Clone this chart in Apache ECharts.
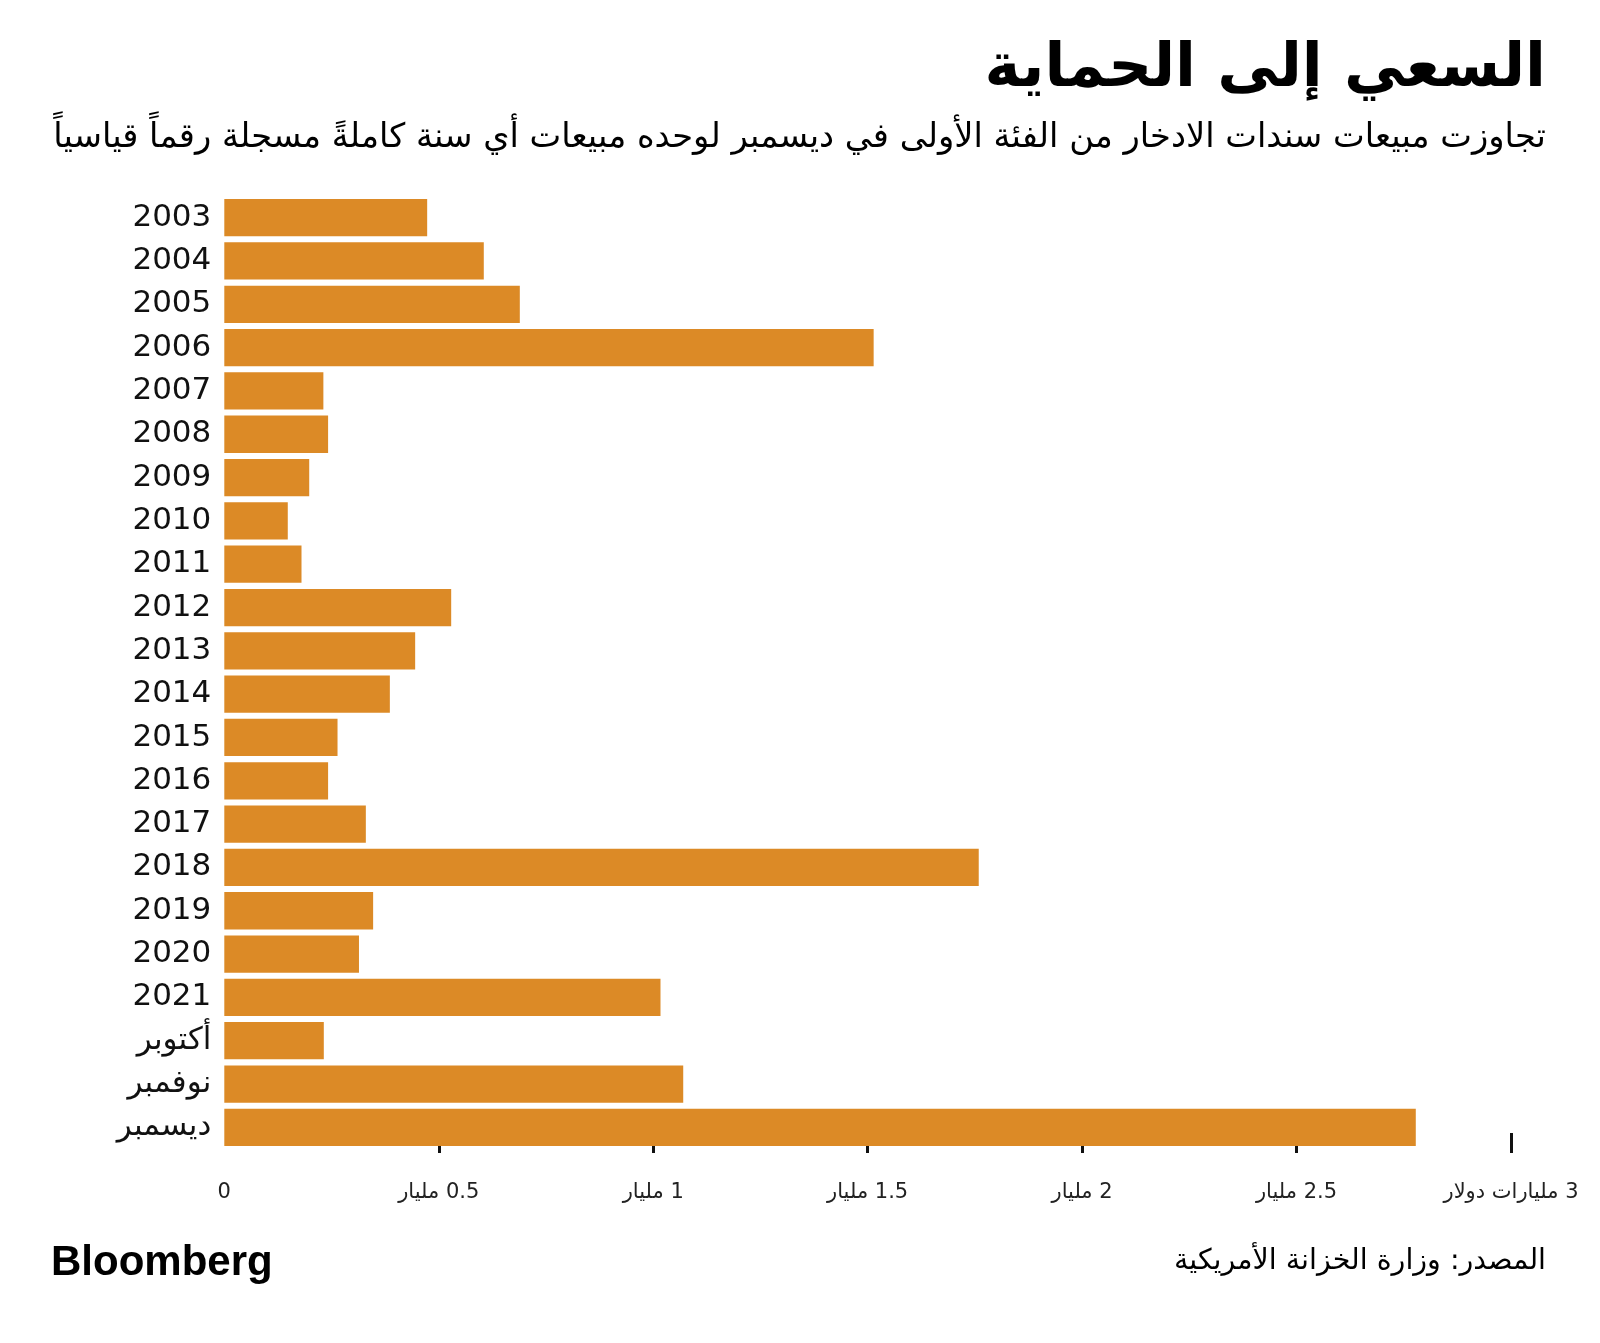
<!DOCTYPE html>
<html>
<head>
<meta charset="utf-8">
<script src="https://cdn.jsdelivr.net/npm/echarts@6/dist/echarts.min.js"></script>
<style>
html,body{margin:0;padding:0;background:#fff;}
#chart{width:1600px;height:1343px;}
</style>
</head>
<body>
<div id="chart" dir="rtl"></div>
<script>
const categories = ['2003','2004','2005','2006','2007','2008','2009','2010','2011','2012','2013','2014','2015','2016','2017','2018','2019','2020','2021','أكتوبر','نوفمبر','ديسمبر'];
const sales = [0.473,0.605,0.689,1.514,0.231,0.242,0.198,0.148,0.180,0.529,0.445,0.386,0.264,0.242,0.330,1.759,0.347,0.314,1.017,0.232,1.070,2.778];
const tickValues = [0,0.5,1,1.5,2,2.5,3];
const tickLabels = ['0','0.5 مليار','1 مليار','1.5 مليار','2 مليار','2.5 مليار','3 مليارات دولار'];
const titleText = 'السعي إلى الحماية';
const subtitleText = 'تجاوزت مبيعات سندات الادخار من الفئة الأولى في ديسمبر لوحده مبيعات أي سنة كاملةً مسجلة رقماً قياسياً';
const sourceText = 'المصدر: وزارة الخزانة الأمريكية';
const logoText = 'Bloomberg';

const chart = echarts.init(document.getElementById('chart'), null, {renderer:'canvas'});
const arabicFont = '"DejaVu Sans", sans-serif';
chart.setOption({
  backgroundColor:'#ffffff',
  animation:false,
  grid:{left:224.3, right:89, top:196, bottom:194, containLabel:false},
  xAxis:{
    type:'value', min:0, max:3, interval:0.5, offset:4,
    axisLine:{show:false},
    splitLine:{show:false},
    axisTick:{show:true, inside:true, length:20, customValues:tickValues.slice(1), lineStyle:{color:'#111', width:3}},
    axisLabel:{
      customValues:tickValues, margin:29,
      fontFamily:arabicFont, fontSize:21, color:'#222',
      formatter:(v)=>{ const i = tickValues.indexOf(v); return i>=0 ? tickLabels[i] : ''; }
    }
  },
  yAxis:{
    type:'category', data:categories, inverse:true,
    axisLine:{show:false}, axisTick:{show:false},
    axisLabel:{fontFamily:arabicFont, fontSize:31, color:'#111', margin:13}
  },
  series:[{
    type:'bar', data:sales, barCategoryGap:'14%',
    itemStyle:{color:'#DC8A26'}
  }],
  graphic:[
    {type:'text', x:1546, y:70, style:{text:titleText, font:'bold 61px "DejaVu Sans"', fill:'#000', align:'right', verticalAlign:'middle'}},
    {type:'text', x:1546, y:138, style:{text:subtitleText, font:'33.7px "DejaVu Sans"', fill:'#000', align:'right', verticalAlign:'middle'}},
    {type:'text', x:51, y:1263, style:{text:logoText, font:'bold 42px "Liberation Sans"', fill:'#000', align:'left', verticalAlign:'middle'}},
    {type:'text', x:1546, y:1262, style:{text:sourceText, font:'28.5px "DejaVu Sans"', fill:'#000', align:'right', verticalAlign:'middle'}}
  ]
});
</script>
</body>
</html>
